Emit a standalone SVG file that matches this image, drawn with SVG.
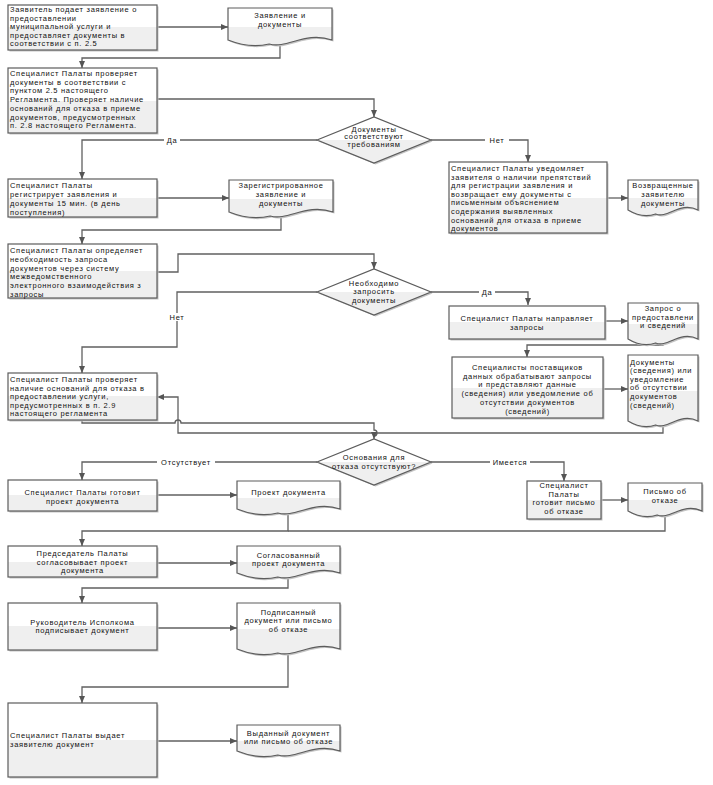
<svg xmlns="http://www.w3.org/2000/svg" width="713" height="785" viewBox="0 0 713 785">
<defs>
<linearGradient id="g" x1="0" y1="0" x2="0" y2="1">
<stop offset="0" stop-color="#ffffff"/><stop offset="0.5" stop-color="#ffffff"/><stop offset="0.5" stop-color="#efefef"/><stop offset="1" stop-color="#efefef"/>
</linearGradient>
<marker id="ar" markerUnits="userSpaceOnUse" markerWidth="7" markerHeight="6" refX="7" refY="3" orient="auto">
<path d="M0,0 L7,3 L0,6 z" fill="#555"/>
</marker>
<style>
.sh{fill:#c4c4c4;stroke:none}
.bx{fill:url(#g);stroke:#5c5c5c;stroke-width:1.2}
.t{font-family:"Liberation Sans",Arial,sans-serif;font-size:7.5px;letter-spacing:0.7px;fill:#111}
.c{text-anchor:middle}
.cn{fill:none;stroke:#606060;stroke-width:1.3}
.ca{marker-end:url(#ar)}
.lb{fill:#fff}
</style>
</defs>
<rect width="713" height="785" fill="#fff"/>

<g id="connectors">
<path class="cn ca" d="M157,27 H228"/>
<path class="cn ca" d="M280,40 V58 H82 V68"/>
<path class="cn ca" d="M157,99 H374 V117"/>
<path class="cn ca" d="M317,140 H82 V179"/>
<path class="cn ca" d="M431,140 H528 V162"/>
<path class="cn ca" d="M157,198 H229"/>
<path class="cn ca" d="M607,198 H628"/>
<path class="cn ca" d="M281,212 V230 H82 V244"/>
<path class="cn ca" d="M157,272 H178 V254 H374 V269"/>
<path class="cn ca" d="M431,292 H528 V305"/>
<path class="cn ca" d="M317,292 H177 V347 H82 V373"/>
<path class="cn ca" d="M605,321 H628"/>
<path class="cn ca" d="M663,339 V345 H527 V357"/>
<path class="cn ca" d="M603,389 H628"/>
<path class="cn ca" d="M663,421 V433 H178 V397 H157"/>
<path class="cn ca" d="M82,420 V423 H175 A3,3 0 0 1 181,423 H374 V430 A3,3 0 0 1 374,436 V439"/>
<path class="cn ca" d="M317,462 H82 V480"/>
<path class="cn ca" d="M431,462 H564 V481"/>
<path class="cn ca" d="M157,495 H237"/>
<path class="cn ca" d="M601,500 H628"/>
<path class="cn ca" d="M288,509 V531 H82 V546"/>
<path class="cn" d="M665,511 V531 H288"/>
<path class="cn ca" d="M157,563 H237"/>
<path class="cn ca" d="M288,573 V588 H82 V603"/>
<path class="cn ca" d="M157,628 H237"/>
<path class="cn ca" d="M288,649 V687 H82 V703"/>
<path class="cn ca" d="M157,741 H237"/>
<rect class="lb" x="164" y="136" width="16" height="8"/><text class="t c" x="172" y="142.7">Да</text>
<rect class="lb" x="485" y="136" width="24" height="8"/><text class="t c" x="497" y="142.7">Нет</text>
<rect class="lb" x="479" y="288" width="16" height="8"/><text class="t c" x="487" y="294.7">Да</text>
<rect class="lb" x="165" y="313" width="24" height="8"/><text class="t c" x="177" y="319.7">Нет</text>
<rect class="lb" x="157" y="458" width="58" height="8"/><text class="t c" x="186" y="464.7">Отсутствует</text>
<rect class="lb" x="490" y="458" width="40" height="8"/><text class="t c" x="510" y="464.7">Имеется</text>
</g>

<g id="box1"><rect class="sh" x="9.5" y="6.5" width="149" height="45"/><rect class="bx" x="8" y="5" width="149" height="45"/>
<text class="t" x="10"><tspan x="10" y="12">Заявитель подает заявление о</tspan><tspan x="10" y="20.5">предоставлении</tspan><tspan x="10" y="29">муниципальной услуги и</tspan><tspan x="10" y="37.5">предоставляет документы в</tspan><tspan x="10" y="46">соответствии с п. 2.5</tspan></text></g>

<g id="doc1"><path class="sh" d="M229.5,9.5 H333.5 V41.5 C306.3,32.5 289.1,50.5 270.7,45.5 C253.5,49.5 239.5,45.5 229.5,41.5 Z"/>
<path class="bx" d="M228,8 H332 V40 C304.8,31 287.6,49 269.2,44 C252,48 238,44 228,40 Z"/>
<text class="t c"><tspan x="280" y="17.7">Заявление и</tspan><tspan x="280" y="26.5">документы</tspan></text></g>

<g id="box2"><rect class="sh" x="9.5" y="69.5" width="149" height="65"/><rect class="bx" x="8" y="68" width="149" height="65"/>
<text class="t"><tspan x="10" y="76">Специалист Палаты  проверяет</tspan><tspan x="10" y="84.7">документы в соответствии с</tspan><tspan x="10" y="93.4">пунктом 2.5 настоящего</tspan><tspan x="10" y="102.1">Регламента. Проверяет наличие</tspan><tspan x="10" y="110.8">оснований для отказа в приеме</tspan><tspan x="10" y="119.5">документов, предусмотренных</tspan><tspan x="10" y="128.2">п. 2.8 настоящего Регламента.</tspan></text></g>

<g id="dia1"><path class="sh" d="M318.5,141.5 L375.5,118.5 L432.5,141.5 L375.5,164.5 Z"/><path class="bx" d="M317,140 L374,117 L431,140 L374,163 Z"/>
<text class="t c"><tspan x="374" y="131.5">Документы</tspan><tspan x="374" y="139.3">соответствуют</tspan><tspan x="374" y="147.1">требованиям</tspan></text></g>

<g id="box3"><rect class="sh" x="9.5" y="180.5" width="149" height="38"/><rect class="bx" x="8" y="179" width="149" height="38"/>
<text class="t"><tspan x="10" y="188">Специалист Палаты</tspan><tspan x="10" y="197">регистрирует заявления и</tspan><tspan x="10" y="206">документы 15 мин. (в день</tspan><tspan x="10" y="215">поступления)</tspan></text></g>

<g id="doc2"><path class="sh" d="M230.5,181.5 H334.5 V213.5 C307.3,204.5 290.1,222.5 271.7,217.5 C254.5,221.5 240.5,217.5 230.5,213.5 Z"/>
<path class="bx" d="M229,180 H333 V212 C305.8,203 288.6,221 270.2,216 C253,220 239,216 229,212 Z"/>
<text class="t c"><tspan x="281" y="188">Зарегистрированное</tspan><tspan x="281" y="196.7">заявление и</tspan><tspan x="281" y="205.5">документы</tspan></text></g>

<g id="box4"><rect class="sh" x="450.5" y="163.5" width="158" height="71"/><rect class="bx" x="449" y="162" width="158" height="71"/>
<text class="t"><tspan x="451" y="171">Специалист Палаты уведомляет</tspan><tspan x="451" y="179.6">заявителя о наличии препятствий</tspan><tspan x="451" y="188.2">для регистрации заявления и</tspan><tspan x="451" y="196.8">возвращает ему документы с</tspan><tspan x="451" y="205.4">письменным объяснением</tspan><tspan x="451" y="214">содержания выявленных</tspan><tspan x="451" y="222.6">оснований для отказа в приеме</tspan><tspan x="451" y="231.2">документов</tspan></text></g>

<g id="doc3"><path class="sh" d="M629.5,181.5 H699.5 V211.5 C681.2,202.5 669.5,220.5 657.1,215.5 C645.5,219.5 636.2,215.5 629.5,211.5 Z"/>
<path class="bx" d="M628,180 H698 V210 C679.7,201 668,219 655.6,214 C644,218 634.7,214 628,210 Z"/>
<text class="t c"><tspan x="663" y="188">Возвращенные</tspan><tspan x="663" y="196.7">заявителю</tspan><tspan x="663" y="205.5">документы</tspan></text></g>

<g id="box5"><rect class="sh" x="9.5" y="245.5" width="149" height="54"/><rect class="bx" x="8" y="244" width="149" height="54"/>
<text class="t"><tspan x="10" y="253">Специалист Палаты определяет</tspan><tspan x="10" y="261.8">необходимость запроса</tspan><tspan x="10" y="270.6">документов через систему</tspan><tspan x="10" y="279.4">межведомственного</tspan><tspan x="10" y="288.2">электронного взаимодействия з</tspan><tspan x="10" y="297">запросы</tspan></text></g>

<g id="dia2"><path class="sh" d="M318.5,293.5 L375.5,270.5 L432.5,293.5 L375.5,316.5 Z"/><path class="bx" d="M317,292 L374,269 L431,292 L374,315 Z"/>
<text class="t c"><tspan x="374" y="285.7">Необходимо</tspan><tspan x="374" y="294.3">запросить</tspan><tspan x="374" y="303">документы</tspan></text></g>

<g id="box6"><rect class="sh" x="450.5" y="307.5" width="156" height="33"/><rect class="bx" x="449" y="306" width="156" height="33"/>
<text class="t c"><tspan x="527" y="320.5">Специалист Палаты направляет</tspan><tspan x="527" y="329.5">запросы</tspan></text></g>

<g id="doc4"><path class="sh" d="M629.5,304.5 H699.5 V340.5 C681.2,331.5 669.5,349.5 657.1,344.5 C645.5,348.5 636.2,344.5 629.5,340.5 Z"/>
<path class="bx" d="M628,303 H698 V339 C679.7,330 668,348 655.6,343 C644,347 634.7,343 628,339 Z"/>
<text class="t c"><tspan x="663" y="310.7">Запрос о</tspan><tspan x="663" y="319.5">предоставлени</tspan><tspan x="663" y="328">и сведений</tspan></text></g>

<g id="box7"><rect class="sh" x="453.5" y="358.5" width="151" height="61"/><rect class="bx" x="452" y="357" width="151" height="61"/>
<text class="t c"><tspan x="527.5" y="370">Специалисты поставщиков</tspan><tspan x="527.5" y="378.7">данных обрабатывают запросы</tspan><tspan x="527.5" y="387.4">и представляют данные</tspan><tspan x="527.5" y="396.1">(сведения) или уведомление об</tspan><tspan x="527.5" y="404.8">отсутствии документов</tspan><tspan x="527.5" y="413.5">(сведений)</tspan></text></g>

<g id="doc5"><path class="sh" d="M629.5,356.5 H699.5 V422.5 C681.2,413.5 669.5,431.5 657.1,426.5 C645.5,430.5 636.2,426.5 629.5,422.5 Z"/>
<path class="bx" d="M628,355 H698 V421 C679.7,412 668,430 655.6,425 C644,429 634.7,425 628,421 Z"/>
<text class="t"><tspan x="630" y="364.5">Документы</tspan><tspan x="630" y="373.1">(сведения) или</tspan><tspan x="630" y="381.7">уведомление</tspan><tspan x="630" y="390.3">об отсутствии</tspan><tspan x="630" y="398.9">документов</tspan><tspan x="630" y="407.5">(сведений)</tspan></text></g>

<g id="box8"><rect class="sh" x="9.5" y="374.5" width="149" height="47"/><rect class="bx" x="8" y="373" width="149" height="47"/>
<text class="t"><tspan x="10" y="382">Специалист Палаты проверяет</tspan><tspan x="10" y="390.6">наличие оснований для отказа в</tspan><tspan x="10" y="399.2">предоставлении  услуги,</tspan><tspan x="10" y="407.8">предусмотренных в п. 2.9</tspan><tspan x="10" y="416.4">настоящего регламента</tspan></text></g>

<g id="dia3"><path class="sh" d="M318.5,463.5 L375.5,440.5 L432.5,463.5 L375.5,486.5 Z"/><path class="bx" d="M317,462 L374,439 L431,462 L374,485 Z"/>
<text class="t c"><tspan x="374" y="459.7">Основания для</tspan><tspan x="374" y="468.5">отказа отсутствуют?</tspan></text></g>

<g id="box9"><rect class="sh" x="9.5" y="481.5" width="149" height="31"/><rect class="bx" x="8" y="480" width="149" height="31"/>
<text class="t c"><tspan x="82.5" y="494.7">Специалист Палаты готовит</tspan><tspan x="82.5" y="503.5">проект документа</tspan></text></g>

<g id="doc6"><path class="sh" d="M238.5,482.5 H341.5 V510.5 C314.5,501.5 297.5,519.5 279.3,514.5 C262.3,518.5 248.4,514.5 238.5,510.5 Z"/>
<path class="bx" d="M237,481 H340 V509 C313,500 296,518 277.8,513 C260.8,517 246.9,513 237,509 Z"/>
<text class="t c"><tspan x="288.5" y="494.7">Проект документа</tspan></text></g>

<g id="box10"><rect class="sh" x="528.5" y="482.5" width="74" height="38"/><rect class="bx" x="527" y="481" width="74" height="38"/>
<text class="t c"><tspan x="564" y="488">Специалист</tspan><tspan x="564" y="496.5">Палаты</tspan><tspan x="564" y="505">готовит письмо</tspan><tspan x="564" y="513.5">об отказе</tspan></text></g>

<g id="doc7"><path class="sh" d="M629.5,484.5 H703.5 V512.5 C684.1,503.5 671.8,521.5 658.6,516.5 C646.4,520.5 636.5,516.5 629.5,512.5 Z"/>
<path class="bx" d="M628,483 H702 V511 C682.6,502 670.3,520 657.1,515 C644.9,519 635,515 628,511 Z"/>
<text class="t c"><tspan x="665" y="493.7">Письмо об</tspan><tspan x="665" y="502.5">отказе</tspan></text></g>

<g id="box11"><rect class="sh" x="9.5" y="547.5" width="149" height="31"/><rect class="bx" x="8" y="546" width="149" height="31"/>
<text class="t c"><tspan x="82.5" y="556">Председатель Палаты</tspan><tspan x="82.5" y="564.5">согласовывает проект</tspan><tspan x="82.5" y="573">документа</tspan></text></g>

<g id="doc8"><path class="sh" d="M238.5,547.5 H341.5 V574.5 C314.5,565.5 297.5,583.5 279.3,578.5 C262.3,582.5 248.4,578.5 238.5,574.5 Z"/>
<path class="bx" d="M237,546 H340 V573 C313,564 296,582 277.8,577 C260.8,581 246.9,577 237,573 Z"/>
<text class="t c"><tspan x="288.5" y="557.7">Согласованный</tspan><tspan x="288.5" y="566">проект документа</tspan></text></g>

<g id="box12"><rect class="sh" x="9.5" y="604.5" width="149" height="47"/><rect class="bx" x="8" y="603" width="149" height="47"/>
<text class="t c"><tspan x="82.5" y="624.7">Руководитель Исполкома</tspan><tspan x="82.5" y="633">подписывает документ</tspan></text></g>

<g id="doc9"><path class="sh" d="M238.5,604.5 H341.5 V650.5 C314.5,641.5 297.5,659.5 279.3,654.5 C262.3,658.5 248.4,654.5 238.5,650.5 Z"/>
<path class="bx" d="M237,603 H340 V649 C313,640 296,658 277.8,653 C260.8,657 246.9,653 237,649 Z"/>
<text class="t c"><tspan x="288.5" y="614.7">Подписанный</tspan><tspan x="288.5" y="623.3">документ или письмо</tspan><tspan x="288.5" y="632">об отказе</tspan></text></g>

<g id="box13"><rect class="sh" x="9.5" y="704.5" width="149" height="74"/><rect class="bx" x="8" y="703" width="149" height="74"/>
<text class="t"><tspan x="10" y="738">Специалист Палаты  выдает</tspan><tspan x="10" y="746.5">заявителю документ</tspan></text></g>

<g id="doc10"><path class="sh" d="M238.5,726.5 H341.5 V752.5 C314.5,743.5 297.5,761.5 279.3,756.5 C262.3,760.5 248.4,756.5 238.5,752.5 Z"/>
<path class="bx" d="M237,725 H340 V751 C313,742 296,760 277.8,755 C260.8,759 246.9,755 237,751 Z"/>
<text class="t c"><tspan x="288.5" y="735.7">Выданный документ</tspan><tspan x="288.5" y="744">или письмо об отказе</tspan></text></g>
</svg>
